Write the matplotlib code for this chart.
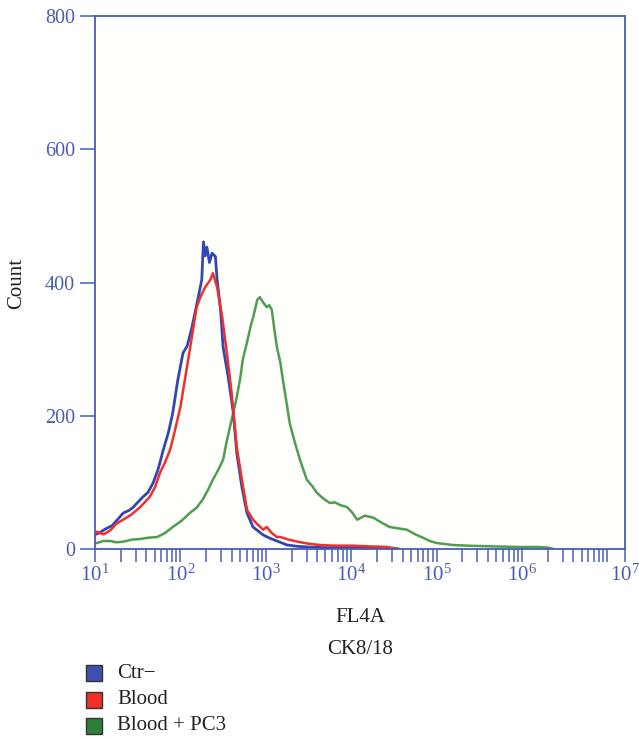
import matplotlib.pyplot as plt
from matplotlib.patches import Rectangle
from matplotlib.ticker import FixedLocator, NullFormatter
import numpy as np

plt.rcParams['font.family'] = ['Liberation Serif', 'DejaVu Serif']
plt.rcParams['mathtext.fontset'] = 'custom'
plt.rcParams['mathtext.rm'] = 'Liberation Serif'
plt.rcParams['mathtext.it'] = 'Liberation Serif'

AXIS_BLUE = '#4a5cb5'

# FL4A intensity as log10 exponent, counts
ctr_log = [1.00, 1.05, 1.12, 1.20, 1.27, 1.33, 1.40, 1.45, 1.50, 1.56, 1.62,
           1.68, 1.74, 1.80, 1.86, 1.91, 1.97, 2.03, 2.08, 2.13, 2.18, 2.22,
           2.25, 2.27, 2.29, 2.31, 2.34, 2.37, 2.41, 2.43, 2.47, 2.50, 2.56,
           2.62, 2.66, 2.72, 2.78, 2.85, 2.92, 2.97, 3.05, 3.13, 3.25, 3.37,
           3.50, 3.70, 3.90, 4.10, 4.30, 4.50, 4.55]
ctr_count = [22, 24, 30, 35, 45, 54, 58, 63, 70, 78, 85,
             99, 120, 149, 175, 204, 254, 294, 305, 330, 360, 385,
             404, 461, 440, 453, 430, 444, 439, 404, 359, 303, 258,
             204, 144, 93, 54, 33, 26, 21, 16, 12, 6, 4,
             3, 2, 2, 2, 1, 1, 0]

blood_log = [1.00, 1.02, 1.10, 1.18, 1.25, 1.33, 1.43, 1.53, 1.64, 1.70, 1.76,
             1.82, 1.88, 1.94, 2.00, 2.06, 2.11, 2.19, 2.24, 2.29, 2.35, 2.38,
             2.43, 2.49, 2.55, 2.60, 2.66, 2.72, 2.78, 2.85, 2.91, 2.97, 3.01,
             3.07, 3.13, 3.17, 3.27, 3.37, 3.50, 3.63, 3.80, 4.02, 4.20, 4.42,
             4.55]
blood_count = [20, 26, 22, 28, 38, 44, 52, 63, 78, 92, 114,
               130, 149, 180, 213, 260, 299, 363, 380, 393, 404, 414,
               393, 348, 288, 234, 153, 104, 59, 44, 36, 29, 33,
               24, 18, 18, 14, 11, 8, 6, 5, 5, 4, 3,
               0]

pc3_log = [1.00, 1.02, 1.10, 1.18, 1.25, 1.33, 1.43, 1.53, 1.63, 1.73, 1.82,
           1.91, 2.01, 2.11, 2.19, 2.26, 2.32, 2.38, 2.44, 2.50, 2.54, 2.58,
           2.62, 2.66, 2.70, 2.73, 2.78, 2.82, 2.86, 2.90, 2.93, 2.97, 3.01,
           3.04, 3.07, 3.10, 3.13, 3.17, 3.20, 3.24, 3.28, 3.34, 3.40, 3.48,
           3.54, 3.60, 3.68, 3.75, 3.81, 3.87, 3.95, 4.01, 4.07, 4.16, 4.26,
           4.35, 4.45, 4.55, 4.65, 4.75, 4.84, 4.92, 5.00, 5.19, 5.36, 5.63,
           5.98, 6.20, 6.31, 6.37]
pc3_count = [8, 9, 12, 12, 10, 11, 14, 15, 17, 18, 24,
             33, 42, 54, 62, 74, 88, 104, 118, 134, 160, 183,
             205, 228, 256, 284, 310, 333, 352, 374, 378, 370, 363,
             366, 359, 330, 303, 280, 254, 222, 189, 160, 134, 104,
             95, 84, 75, 69, 70, 66, 63, 55, 44, 50, 47,
             40, 33, 31, 29, 22, 17, 12, 9, 6, 5, 4,
             3, 3, 2, 0]

series_names = ['Ctr\u2212', 'Blood', 'Blood + PC3']
line_colors = ['#3446b4', '#f0302a', '#4f9e4f']
legend_colors = ['#3f51b0', '#ef3027', '#2f7f3a']

fig = plt.figure(figsize=(6.39, 7.37), dpi=100)
ax = fig.add_axes([95 / 639, 1 - 549 / 737, 530 / 639, 533 / 737])
ax.set_facecolor('#fffffc')

ax.plot(10 ** np.array(pc3_log), pc3_count, color=line_colors[2], lw=1.8)
ax.plot(10 ** np.array(ctr_log), ctr_count, color=line_colors[0], lw=2.0)
ax.plot(10 ** np.array(blood_log), blood_count, color=line_colors[1], lw=1.8)

ax.set_xscale('log')
x_max = 10 ** 7.206
ax.set_xlim(10, x_max)
ax.set_ylim(0, 800)

major = [10 ** k for k in range(1, 7)] + [x_max]
ax.xaxis.set_major_locator(FixedLocator(major))
ax.set_xticklabels(['$10^{%d}$' % k for k in range(1, 8)])
minor = [m * 10 ** k for k in range(1, 7) for m in range(2, 10)] + [1e7]
ax.xaxis.set_minor_locator(FixedLocator(minor))
ax.xaxis.set_minor_formatter(NullFormatter())

ax.set_yticks([0, 200, 400, 600, 800])

for sp in ax.spines.values():
    sp.set_color(AXIS_BLUE)
    sp.set_linewidth(1.3)
ax.tick_params(axis='x', which='both', direction='out', length=9.5,
               width=1.1, color=AXIS_BLUE, labelcolor=AXIS_BLUE,
               labelsize=15, pad=2)
ax.tick_params(axis='y', direction='out', length=10.5, width=1.1,
               color=AXIS_BLUE, labelcolor=AXIS_BLUE, labelsize=14.5, pad=4)

fig.text(17 / 639, 1 - 283 / 737, 'Count', rotation=90, ha='center',
         va='center', fontsize=15, color='#222222')
fig.text(360 / 639, 1 - 617 / 737, 'FL4A', ha='center', va='center',
         fontsize=15, color='#222222')
fig.text(360 / 639, 1 - 650 / 737, 'CK8/18', ha='center', va='center',
         fontsize=15, color='#222222')

for i, (name, col) in enumerate(zip(series_names, legend_colors)):
    yc = 673 + i * 26.5
    fig.patches.append(Rectangle((86 / 639, 1 - (yc + 8) / 737), 16 / 639,
                                 16 / 737, transform=fig.transFigure,
                                 facecolor=col, edgecolor='#333333', lw=1))
    fig.text(117 / 639, 1 - yc / 737, name, ha='left', va='center',
             fontsize=15, color='#222222')

fig.savefig('out.png', dpi=100)
